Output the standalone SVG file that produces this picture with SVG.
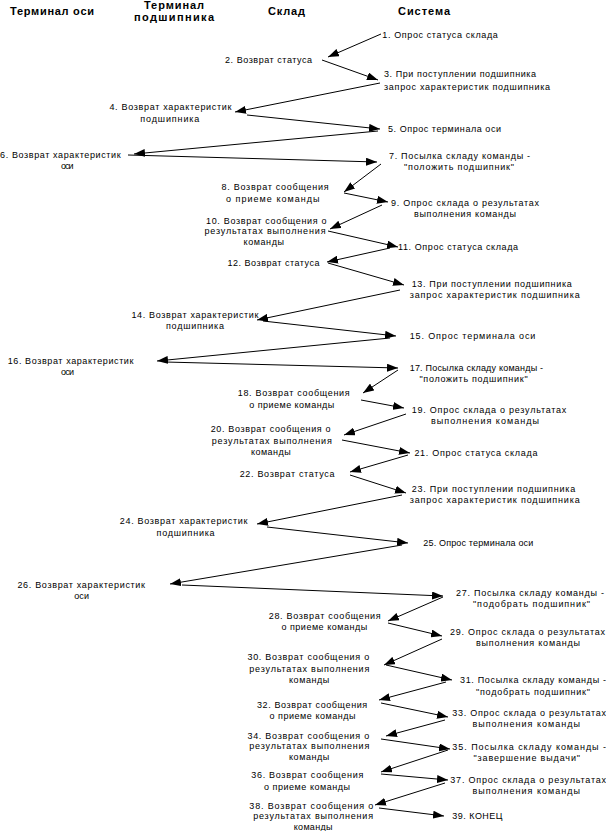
<svg xmlns="http://www.w3.org/2000/svg" width="606" height="831" viewBox="0 0 606 831">
<style>
text{font-family:"Liberation Sans",Arial,sans-serif;fill:#000}
.t{font-size:9px}
.h{font-size:11px;font-weight:bold}
.c line{stroke:#000;stroke-width:1;marker-end:url(#ah)}
</style>
<defs>
<marker id="ah" markerUnits="userSpaceOnUse" markerWidth="12" markerHeight="8" refX="11" refY="4" orient="auto"><path d="M0,0 L11,4 L0,8 z" fill="#000"/></marker>
</defs>
<rect width="606" height="831" fill="#fff"/>
<g id="headers">
<text class="h" x="10" y="15" textLength="84" lengthAdjust="spacing">Терминал оси</text>
<text class="h" x="144" y="8.5" textLength="60" lengthAdjust="spacing">Терминал</text>
<text class="h" x="134" y="20.5" textLength="80" lengthAdjust="spacing">подшипника</text>
<text class="h" x="268" y="15" textLength="37" lengthAdjust="spacing">Склад</text>
<text class="h" x="398" y="15" textLength="52" lengthAdjust="spacing">Система</text>
</g>
<g class="c" id="connectors">
<line x1="381" y1="34" x2="328" y2="57"/>
<line x1="322" y1="60" x2="378" y2="80"/>
<line x1="380" y1="83" x2="235" y2="112"/>
<line x1="247" y1="115" x2="380" y2="129"/>
<line x1="378" y1="131" x2="134" y2="154"/>
<line x1="128" y1="155" x2="377" y2="162"/>
<line x1="381" y1="164" x2="344" y2="192"/>
<line x1="344" y1="193" x2="388" y2="202"/>
<line x1="382" y1="205" x2="330" y2="229"/>
<line x1="328" y1="231" x2="398" y2="247"/>
<line x1="390" y1="248" x2="327" y2="262"/>
<line x1="328" y1="263" x2="404" y2="285"/>
<line x1="400" y1="290" x2="257" y2="320"/>
<line x1="263" y1="321" x2="396" y2="336"/>
<line x1="390" y1="338" x2="157" y2="361"/>
<line x1="165" y1="362" x2="398" y2="368"/>
<line x1="398" y1="370" x2="363" y2="393"/>
<line x1="361" y1="400" x2="404" y2="408"/>
<line x1="406" y1="414" x2="344" y2="435"/>
<line x1="342" y1="440" x2="410" y2="453"/>
<line x1="408" y1="455" x2="350" y2="472"/>
<line x1="350" y1="475" x2="406" y2="493"/>
<line x1="402" y1="495" x2="257" y2="524"/>
<line x1="267" y1="527" x2="408" y2="543"/>
<line x1="402" y1="545" x2="170" y2="584"/>
<line x1="182" y1="585" x2="443" y2="596"/>
<line x1="443" y1="597" x2="388" y2="621"/>
<line x1="388" y1="623" x2="442" y2="636"/>
<line x1="442" y1="639" x2="384" y2="665"/>
<line x1="386" y1="665" x2="452" y2="680"/>
<line x1="446" y1="682" x2="379" y2="700"/>
<line x1="381" y1="703" x2="448" y2="717"/>
<line x1="445" y1="720" x2="386" y2="736"/>
<line x1="381" y1="739" x2="450" y2="749"/>
<line x1="448" y1="750" x2="381" y2="772"/>
<line x1="381" y1="774" x2="448" y2="780"/>
<line x1="445" y1="783" x2="375" y2="805"/>
<line x1="379" y1="808" x2="444" y2="816"/>
</g>
<g id="n1"><text class="t" x="382.3" y="37.5" textLength="115.5" lengthAdjust="spacing">1. Опрос статуса склада</text></g>
<g id="n2"><text class="t" x="225" y="62.5" textLength="87" lengthAdjust="spacing">2. Возврат статуса</text></g>
<g id="n3"><text class="t" x="384" y="77" textLength="152" lengthAdjust="spacing">3. При поступлении подшипника</text>
<text class="t" x="384" y="90" textLength="166" lengthAdjust="spacing">запрос характеристик подшипника</text></g>
<g id="n4"><text class="t" x="109.4" y="110" textLength="122" lengthAdjust="spacing">4. Возврат характеристик</text>
<text class="t" x="140.3" y="121.5" textLength="59" lengthAdjust="spacing">подшипника</text></g>
<g id="n5"><text class="t" x="388" y="131.5" textLength="113" lengthAdjust="spacing">5. Опрос терминала оси</text></g>
<g id="n6"><text class="t" x="0" y="158" textLength="120.6" lengthAdjust="spacing">6. Возврат характеристик</text>
<text class="t" x="61" y="169" textLength="12.5" lengthAdjust="spacing">оси</text></g>
<g id="n7"><text class="t" x="389" y="159" textLength="141" lengthAdjust="spacing">7. Посылка складу команды -</text>
<text class="t" x="404" y="169.5" textLength="110" lengthAdjust="spacing">"положить подшипник"</text></g>
<g id="n8"><text class="t" x="221.5" y="189.7" textLength="107" lengthAdjust="spacing">8. Возврат сообщения</text>
<text class="t" x="226" y="202" textLength="93.5" lengthAdjust="spacing">о приеме команды</text></g>
<g id="n9"><text class="t" x="391" y="206" textLength="148" lengthAdjust="spacing">9. Опрос склада о результатах</text>
<text class="t" x="414" y="217" textLength="102" lengthAdjust="spacing">выполнения команды</text></g>
<g id="n10"><text class="t" x="206" y="223.5" textLength="120.5" lengthAdjust="spacing">10. Возврат сообщения о</text>
<text class="t" x="204.5" y="233.7" textLength="121" lengthAdjust="spacing">результатах выполнения</text>
<text class="t" x="243.5" y="244.7" textLength="40.5" lengthAdjust="spacing">команды</text></g>
<g id="n11"><text class="t" x="398" y="249.7" textLength="120" lengthAdjust="spacing">11. Опрос статуса склада</text></g>
<g id="n12"><text class="t" x="227.5" y="265.5" textLength="92" lengthAdjust="spacing">12. Возврат статуса</text></g>
<g id="n13"><text class="t" x="411.7" y="287" textLength="160" lengthAdjust="spacing">13. При поступлении подшипника</text>
<text class="t" x="409.7" y="297.5" textLength="170" lengthAdjust="spacing">запрос характеристик подшипника</text></g>
<g id="n14"><text class="t" x="131.4" y="318" textLength="127" lengthAdjust="spacing">14. Возврат характеристик</text>
<text class="t" x="166" y="329" textLength="58" lengthAdjust="spacing">подшипника</text></g>
<g id="n15"><text class="t" x="409.7" y="339" textLength="125.7" lengthAdjust="spacing">15. Опрос терминала оси</text></g>
<g id="n16"><text class="t" x="7.7" y="363.7" textLength="125.7" lengthAdjust="spacing">16. Возврат характеристик</text>
<text class="t" x="61" y="375" textLength="13" lengthAdjust="spacing">оси</text></g>
<g id="n17"><text class="t" x="409.7" y="371.3" textLength="133.3" lengthAdjust="spacing">17. Посылка складу команды -</text>
<text class="t" x="419.4" y="382" textLength="108.2" lengthAdjust="spacing">"положить подшипник"</text></g>
<g id="n18"><text class="t" x="237.7" y="396.3" textLength="112" lengthAdjust="spacing">18. Возврат сообщения</text>
<text class="t" x="249.3" y="408" textLength="85" lengthAdjust="spacing">о приеме команды</text></g>
<g id="n19"><text class="t" x="411.7" y="413" textLength="154.6" lengthAdjust="spacing">19. Опрос склада о результатах</text>
<text class="t" x="431" y="423.7" textLength="108" lengthAdjust="spacing">выполнения команды</text></g>
<g id="n20"><text class="t" x="210.7" y="432.3" textLength="119.8" lengthAdjust="spacing">20. Возврат сообщения о</text>
<text class="t" x="211.8" y="443.7" textLength="120" lengthAdjust="spacing">результатах выполнения</text>
<text class="t" x="251" y="454.7" textLength="39.7" lengthAdjust="spacing">команды</text></g>
<g id="n21"><text class="t" x="414.4" y="456.3" textLength="123" lengthAdjust="spacing">21. Опрос статуса склада</text></g>
<g id="n22"><text class="t" x="239.7" y="477" textLength="94.7" lengthAdjust="spacing">22. Возврат статуса</text></g>
<g id="n23"><text class="t" x="411.7" y="492.3" textLength="163.5" lengthAdjust="spacing">23. При поступлении подшипника</text>
<text class="t" x="409.7" y="503" textLength="170" lengthAdjust="spacing">запрос характеристик подшипника</text></g>
<g id="n24"><text class="t" x="119.8" y="523.7" textLength="127.6" lengthAdjust="spacing">24. Возврат характеристик</text>
<text class="t" x="156.6" y="535.7" textLength="58" lengthAdjust="spacing">подшипника</text></g>
<g id="n25"><text class="t" x="423.3" y="545.7" textLength="110" lengthAdjust="spacing">25. Опрос терминала оси</text></g>
<g id="n26"><text class="t" x="17.4" y="588" textLength="127.6" lengthAdjust="spacing">26. Возврат характеристик</text>
<text class="t" x="74.2" y="598.5" textLength="14.8" lengthAdjust="spacing">оси</text></g>
<g id="n27"><text class="t" x="456" y="595.5" textLength="148" lengthAdjust="spacing">27. Посылка складу команды -</text>
<text class="t" x="473" y="607" textLength="117" lengthAdjust="spacing">"подобрать подшипник"</text></g>
<g id="n28"><text class="t" x="268.7" y="619" textLength="112" lengthAdjust="spacing">28. Возврат сообщения</text>
<text class="t" x="281.4" y="630" textLength="85.8" lengthAdjust="spacing">о приеме команды</text></g>
<g id="n29"><text class="t" x="450" y="634.5" textLength="155" lengthAdjust="spacing">29. Опрос склада о результатах</text>
<text class="t" x="476" y="646" textLength="104" lengthAdjust="spacing">выполнения команды</text></g>
<g id="n30"><text class="t" x="247.4" y="660.3" textLength="121.8" lengthAdjust="spacing">30. Возврат сообщения о</text>
<text class="t" x="249.3" y="672" textLength="120" lengthAdjust="spacing">результатах выполнения</text>
<text class="t" x="289" y="683" textLength="40.3" lengthAdjust="spacing">команды</text></g>
<g id="n31"><text class="t" x="460" y="683" textLength="146" lengthAdjust="spacing">31. Посылка складу команды -</text>
<text class="t" x="476" y="694.5" textLength="114" lengthAdjust="spacing">"подобрать подшипник"</text></g>
<g id="n32"><text class="t" x="257" y="708" textLength="110.2" lengthAdjust="spacing">32. Возврат сообщения</text>
<text class="t" x="269.5" y="718.5" textLength="86" lengthAdjust="spacing">о приеме команды</text></g>
<g id="n33"><text class="t" x="452.3" y="716.3" textLength="153.7" lengthAdjust="spacing">33. Опрос склада о результатах</text>
<text class="t" x="472.4" y="727" textLength="107.6" lengthAdjust="spacing">выполнения команды</text></g>
<g id="n34"><text class="t" x="247.4" y="739" textLength="121.8" lengthAdjust="spacing">34. Возврат сообщения о</text>
<text class="t" x="249.3" y="749" textLength="120" lengthAdjust="spacing">результатах выполнения</text>
<text class="t" x="289" y="759.5" textLength="40.3" lengthAdjust="spacing">команды</text></g>
<g id="n35"><text class="t" x="452.3" y="750.3" textLength="153.7" lengthAdjust="spacing">35. Посылка складу команды -</text>
<text class="t" x="473.5" y="761.3" textLength="106.5" lengthAdjust="spacing">"завершение выдачи"</text></g>
<g id="n36"><text class="t" x="251.3" y="778" textLength="112" lengthAdjust="spacing">36. Возврат сообщения</text>
<text class="t" x="264" y="789.7" textLength="86" lengthAdjust="spacing">о приеме команды</text></g>
<g id="n37"><text class="t" x="450.3" y="783" textLength="155.7" lengthAdjust="spacing">37. Опрос склада о результатах</text>
<text class="t" x="472.4" y="794" textLength="107.6" lengthAdjust="spacing">выполнения команды</text></g>
<g id="n38"><text class="t" x="249.3" y="808.7" textLength="124" lengthAdjust="spacing">38. Возврат сообщения о</text>
<text class="t" x="253.2" y="818.7" textLength="119.8" lengthAdjust="spacing">результатах выполнения</text>
<text class="t" x="293.8" y="829.7" textLength="38.6" lengthAdjust="spacing">команды</text></g>
<g id="n39"><text class="t" x="452.3" y="818.7" textLength="50.2" lengthAdjust="spacing">39. КОНЕЦ</text></g>
</svg>
